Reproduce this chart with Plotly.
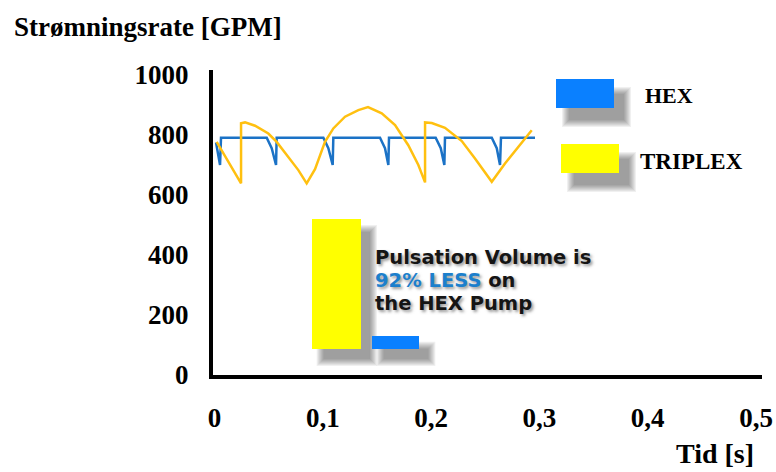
import plotly.graph_objects as go

# ---------------- data ----------------
hex_t = [0.0014, 0.0051, 0.0060, 0.0482, 0.0528, 0.0568, 0.0574, 0.1005, 0.1051, 0.1091,
         0.1097, 0.1528, 0.1574, 0.1605, 0.1611, 0.2042, 0.2089, 0.2122, 0.2128, 0.2560,
         0.2606, 0.2636, 0.2645, 0.2959]
hex_q = [775, 700, 791, 791, 756, 700, 791, 791, 756, 700,
         791, 791, 756, 700, 791, 791, 756, 700, 791, 791,
         756, 700, 791, 791]

tri_t = [0.0020, 0.0127, 0.0245, 0.0245, 0.0282, 0.0374, 0.0497, 0.0574, 0.0681, 0.0774,
         0.0851, 0.0928, 0.1020, 0.1097, 0.1205, 0.1328, 0.1417, 0.1544, 0.1667, 0.1789,
         0.1882, 0.1944, 0.1944, 0.2006, 0.2128, 0.2283, 0.2405, 0.2482, 0.2560, 0.2682,
         0.2805, 0.2929]
tri_q = [777, 711, 639, 839, 842, 831, 805, 777, 727, 683,
         639, 686, 777, 822, 861, 883, 893, 872, 833, 766,
         700, 642, 842, 840, 824, 780, 722, 683, 644, 705,
         761, 816]

pulse_names = ["TRIPLEX", "HEX"]
pulse_x = [0.1125, 0.1671]
pulse_height = [433, 44]
pulse_base = 87

x_ticks = [0, 0.1, 0.2, 0.3, 0.4, 0.5]
x_ticktext = ["0", "0,1", "0,2", "0,3", "0,4", "0,5"]
y_ticks = [0, 200, 400, 600, 800, 1000]

HEX_LINE = "#1B72C6"
TRI_LINE = "#FFC010"
HEX_FILL = "#0A80FF"
TRI_FILL = "#FFFF00"

# ---------------- layout geometry ----------------
W, H = 776, 472
L, R, T, B = 213, 14, 70, 97
PW, PH = W - L - R, H - T - B
XR = [-0.0014, 0.5055]
YR = [0, 1016.7]


def px(xp):
    return (xp - L) / PW


def py(yp):
    return (H - B - yp) / PH


def x2px(x):
    return L + (x - XR[0]) / (XR[1] - XR[0]) * PW


def y2px(y):
    return H - B - (y - YR[0]) / (YR[1] - YR[0]) * PH


serif = dict(family="Liberation Serif", color="black", weight="bold")

fig = go.Figure()

fig.add_trace(go.Scatter(x=hex_t, y=hex_q, mode="lines", name="HEX",
                         line=dict(color=HEX_LINE, width=2.5), showlegend=False))
fig.add_trace(go.Scatter(x=tri_t, y=tri_q, mode="lines", name="TRIPLEX",
                         line=dict(color=TRI_LINE, width=2.5), showlegend=False))

widths = [0.0455, 0.044]
fig.add_trace(go.Bar(x=pulse_x, y=pulse_height, base=pulse_base, width=widths,
                     marker=dict(color=[TRI_FILL, HEX_FILL], line=dict(width=0)),
                     showlegend=False, hoverinfo="skip"))

shapes = []


def shadow(x0, y0, x1, y1, dx=9, dy=10):
    # soft grey drop shadow (pixel coordinates)
    for g in range(7, -1, -1):
        shapes.append(dict(type="rect", xref="paper", yref="paper",
                           x0=px(x0 + dx - g), x1=px(x1 + dx + g),
                           y0=py(y0 + dy - g), y1=py(y1 + dy + g),
                           line=dict(width=0), fillcolor="rgba(40,40,40,0.07)",
                           layer="below"))


for xc, h, w in zip(pulse_x, pulse_height, widths):
    shadow(x2px(xc - w / 2) + 3, y2px(pulse_base + h) + 3, x2px(xc + w / 2), y2px(pulse_base))

legend_items = [("HEX", HEX_FILL, (556, 79, 614, 108), (669, 95), 22),
                ("TRIPLEX", TRI_FILL, (561, 144, 619, 173), (691, 161), 23)]
annotations = []
for name, col, (x0, y0, x1, y1), (tx, ty), fs in legend_items:
    shadow(x0 + 3, y0 + 3, x1, y1, dx=10, dy=12)
    shapes.append(dict(type="rect", xref="paper", yref="paper",
                       x0=px(x0), x1=px(x1), y0=py(y0), y1=py(y1),
                       line=dict(width=0), fillcolor=col))
    annotations.append(dict(text=name, x=px(tx), y=py(ty), xref="paper", yref="paper",
                            xanchor="center", yanchor="middle", showarrow=False,
                            font=dict(size=fs, **serif)))

sans = dict(family="DejaVu Sans", size=19.5, color="#151515", weight="bold",
            shadow="2px 2px 3px rgba(70,70,70,0.55)")
lines = ["Pulsation Volume is",
         "<span style='color:#1C7FCC'>92% LESS</span> on",
         "the HEX Pump"]
for s, yc in zip(lines, [257.5, 280.5, 303.5]):
    annotations.append(dict(text=s, x=px(373), y=py(yc), xref="paper", yref="paper",
                            xanchor="left", yanchor="middle", showarrow=False, font=sans))

annotations.append(dict(text="Strømningsrate [GPM]", x=px(12), y=py(27),
                        xref="paper", yref="paper", xanchor="left", yanchor="middle",
                        showarrow=False, font=dict(size=27, **serif)))
annotations.append(dict(text="Tid [s]", x=px(715), y=py(453),
                        xref="paper", yref="paper", xanchor="center", yanchor="middle",
                        showarrow=False, font=dict(size=28, **serif)))

fig.update_layout(
    width=W, height=H,
    margin=dict(l=L, r=R, t=T, b=B, pad=0),
    paper_bgcolor="white", plot_bgcolor="white",
    shapes=shapes, annotations=annotations,
    xaxis=dict(range=XR, tickvals=x_ticks, ticktext=x_ticktext, automargin=False,
               showgrid=False, zeroline=False, showline=True, linecolor="black",
               linewidth=4, ticks="", ticklabelstandoff=16,
               tickfont=dict(size=27, **serif)),
    yaxis=dict(range=YR, tickvals=y_ticks, showgrid=False, zeroline=False, automargin=False,
               showline=True, linecolor="black", linewidth=4, ticks="",
               ticklabelstandoff=15, tickfont=dict(size=27, **serif)),
    bargap=0,
)

fig.write_html("out.html")
